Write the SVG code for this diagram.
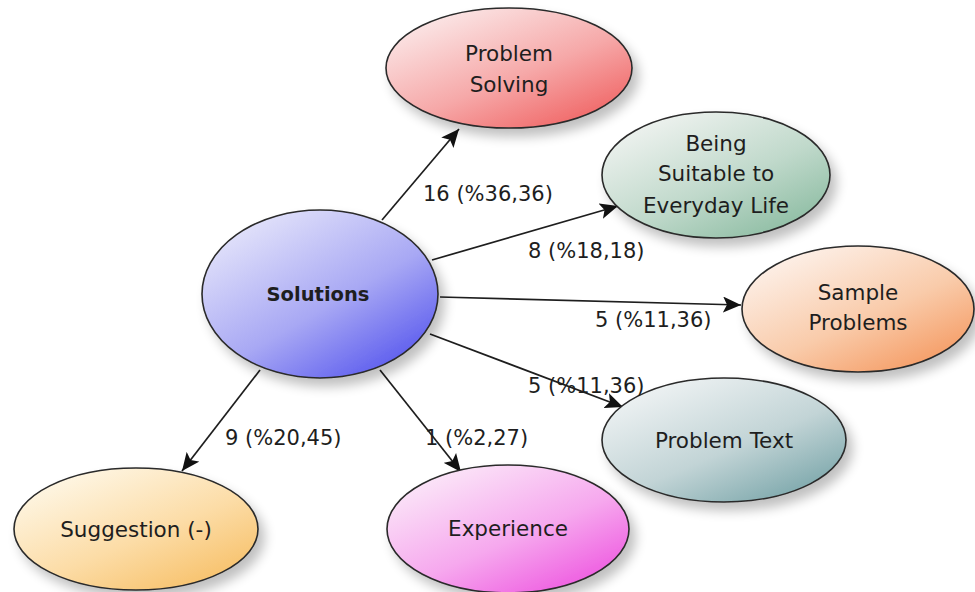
<svg xmlns="http://www.w3.org/2000/svg" width="975" height="592" viewBox="0 0 975 592">
<style>
.node ellipse{stroke:#2a2a2a;stroke-width:1.6;filter:url(#sh)}
.lbl{font-family:"DejaVu Sans",Verdana,sans-serif;font-size:21px;fill:#1e1e1e}
.nt{font-family:"DejaVu Sans",Verdana,sans-serif;font-size:21.5px;fill:#1e1e1e;text-anchor:middle}
.edge line{stroke:#1e1e1e;stroke-width:1.7;marker-end:url(#ah)}
</style>
<defs>
<filter id="sh" x="-20%" y="-20%" width="150%" height="160%">
<feGaussianBlur in="SourceAlpha" stdDeviation="6"/>
<feOffset dx="6" dy="8"/>
<feComponentTransfer><feFuncA type="linear" slope="0.25"/></feComponentTransfer>
<feMerge><feMergeNode/><feMergeNode in="SourceGraphic"/></feMerge>
</filter>
<marker id="ah" markerUnits="userSpaceOnUse" markerWidth="20" markerHeight="16" refX="18" refY="8" orient="auto">
<path d="M0,0 L18,8 L0,16 L4,8 z" fill="#111"/>
</marker>
<linearGradient id="gBlue" x1="0.15" y1="0.1" x2="0.85" y2="0.95"><stop offset="0" stop-color="#e2e2fa"/><stop offset="0.55" stop-color="#a8a8f4"/><stop offset="1" stop-color="#5858ee"/></linearGradient>
<linearGradient id="gRed" x1="0.15" y1="0.1" x2="0.85" y2="0.95"><stop offset="0" stop-color="#fbe6e6"/><stop offset="0.55" stop-color="#f6a8a8"/><stop offset="1" stop-color="#f06464"/></linearGradient>
<linearGradient id="gGreen" x1="0.15" y1="0.1" x2="0.85" y2="0.95"><stop offset="0" stop-color="#eef2ef"/><stop offset="0.55" stop-color="#c0d9cb"/><stop offset="1" stop-color="#8cbca2"/></linearGradient>
<linearGradient id="gOrange" x1="0.15" y1="0.1" x2="0.85" y2="0.95"><stop offset="0" stop-color="#fdf0e8"/><stop offset="0.55" stop-color="#f9cbaa"/><stop offset="1" stop-color="#f59a62"/></linearGradient>
<linearGradient id="gTeal" x1="0.15" y1="0.1" x2="0.85" y2="0.95"><stop offset="0" stop-color="#eef2f3"/><stop offset="0.55" stop-color="#c2d4d6"/><stop offset="1" stop-color="#7aa6aa"/></linearGradient>
<linearGradient id="gYellow" x1="0.15" y1="0.1" x2="0.85" y2="0.95"><stop offset="0" stop-color="#fef6e4"/><stop offset="0.55" stop-color="#fcdca6"/><stop offset="1" stop-color="#f7c068"/></linearGradient>
<linearGradient id="gPink" x1="0.15" y1="0.1" x2="0.85" y2="0.95"><stop offset="0" stop-color="#fbe6f8"/><stop offset="0.55" stop-color="#f6a8ee"/><stop offset="1" stop-color="#ee58e0"/></linearGradient>
</defs>
<rect width="975" height="592" fill="#ffffff"/>

<g id="connectors" class="edge">
<line x1="382" y1="220" x2="459" y2="129"/>
<line x1="432" y1="260" x2="618" y2="206"/>
<line x1="440" y1="297" x2="741" y2="305"/>
<line x1="430" y1="334" x2="623" y2="407"/>
<line x1="260" y1="370" x2="182" y2="471"/>
<line x1="380" y1="370" x2="461" y2="472"/>
</g>

<g id="node-problem-solving" class="node">
<ellipse cx="509" cy="68" rx="123" ry="60" fill="url(#gRed)"/>
<text class="nt" x="509" y="61">Problem</text>
<text class="nt" x="509" y="92">Solving</text>
</g>
<g id="node-being-suitable" class="node">
<ellipse cx="716" cy="175" rx="114" ry="63" fill="url(#gGreen)"/>
<text class="nt" x="716" y="151">Being</text>
<text class="nt" x="716" y="181">Suitable to</text>
<text class="nt" x="716" y="213">Everyday Life</text>
</g>
<g id="node-sample-problems" class="node">
<ellipse cx="858" cy="309" rx="116" ry="63" fill="url(#gOrange)"/>
<text class="nt" x="858" y="300">Sample</text>
<text class="nt" x="858" y="330">Problems</text>
</g>
<g id="node-problem-text" class="node">
<ellipse cx="724" cy="440" rx="122" ry="62" fill="url(#gTeal)"/>
<text class="nt" x="724" y="448">Problem Text</text>
</g>
<g id="node-suggestion" class="node">
<ellipse cx="136" cy="529" rx="122" ry="61" fill="url(#gYellow)"/>
<text class="nt" x="136" y="537">Suggestion (-)</text>
</g>
<g id="node-experience" class="node">
<ellipse cx="508" cy="529" rx="121" ry="64" fill="url(#gPink)"/>
<text class="nt" x="508" y="536">Experience</text>
</g>
<g id="node-solutions" class="node">
<ellipse cx="320" cy="294" rx="118" ry="84" fill="url(#gBlue)"/>
<text class="nt" x="318" y="301" style="font-weight:bold;font-size:19.5px">Solutions</text>
</g>

<g id="labels">
<text class="lbl" x="423" y="201">16 (%36,36)</text>
<text class="lbl" x="528" y="258">8 (%18,18)</text>
<text class="lbl" x="595" y="327">5 (%11,36)</text>
<text class="lbl" x="528" y="393">5 (%11,36)</text>
<text class="lbl" x="225" y="445">9 (%20,45)</text>
<text class="lbl" x="425" y="445">1 (%2,27)</text>
</g>
</svg>
